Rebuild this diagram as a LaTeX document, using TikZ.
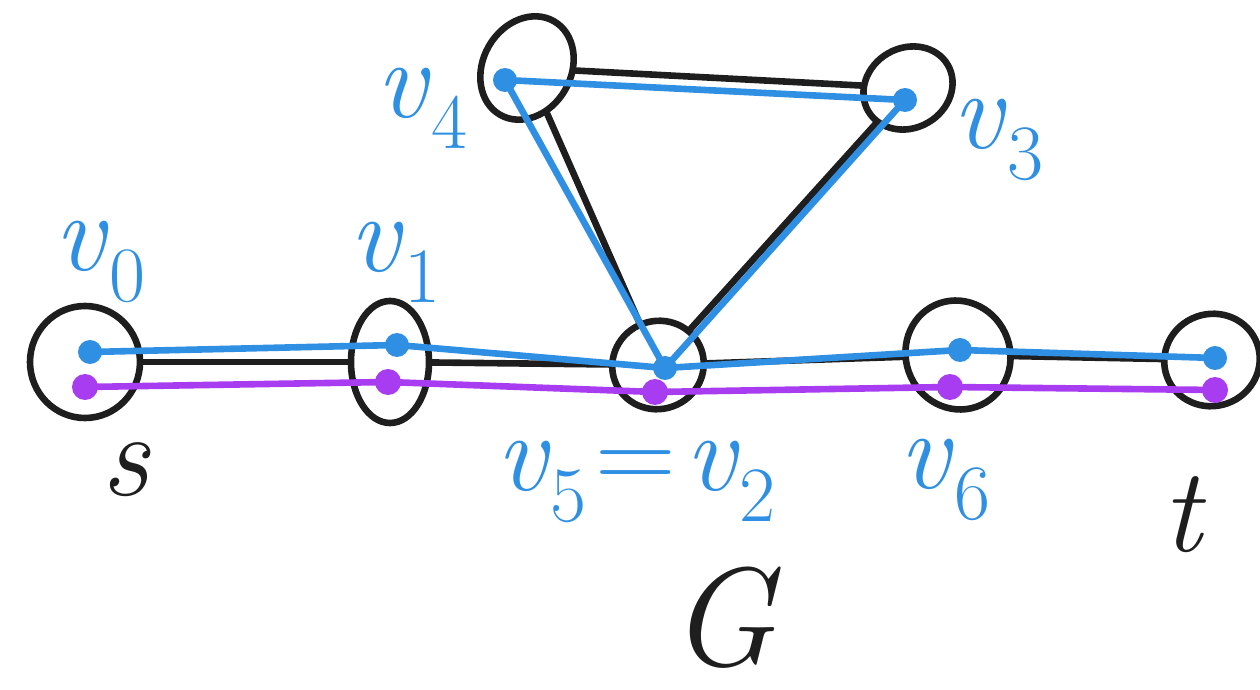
\documentclass[tikz,border=0pt]{standalone}
\usepackage{fontspec}
\usetikzlibrary{shapes.geometric}
\definecolor{pblue}{HTML}{2E8FE3}
\definecolor{ppurple}{HTML}{A83CF0}
\definecolor{ink}{HTML}{1E1E1E}
\newcommand{\vsb}[1]{\textit{v}\raisebox{-0.28em}{\scalebox{0.7}{#1}}}
\begin{document}
\begin{tikzpicture}[x=0.5pt,y=-0.5pt, line cap=round, line join=round,
  vert/.style={draw=ink, line width=3.3pt, ellipse, inner sep=0pt},
  edge/.style={draw=ink, line width=3.3pt},
  bpath/.style={draw=pblue, line width=3.3pt},
  ppath/.style={draw=ppurple, line width=3.3pt},
  bdot/.style={fill=pblue, circle, inner sep=0pt, minimum size=12pt},
  pdot/.style={fill=ppurple, circle, inner sep=0pt, minimum size=13pt},
  blab/.style={text=pblue, font=\fontsize{56}{60}\selectfont, inner sep=0pt},
  klab/.style={text=ink, font=\fontsize{60}{66}\selectfont\itshape, inner sep=0pt}]
\useasboundingbox (0,0) rectangle (1260,690);
% vertices
\node[vert, minimum width=55pt, minimum height=56pt] (s) at (85,362) {};
\node[vert, minimum width=39pt, minimum height=61pt] (v1) at (390,362) {};
\node[vert, minimum width=46pt, minimum height=44pt, rotate=20] (v2) at (658,365) {};
\node[vert, minimum width=52pt, minimum height=55pt, rotate=25] (v6) at (958,355) {};
\node[vert, minimum width=48pt, minimum height=46pt, rotate=20] (t) at (1212,360) {};
\node[vert, minimum width=44pt, minimum height=54pt, rotate=-30] (v4) at (527,68) {};
\node[vert, minimum width=46pt, minimum height=40pt, rotate=30] (v3) at (908,88) {};
% edges of G
\draw[edge] (s) -- (v1);
\draw[edge] (v1) -- (v2);
\draw[edge] (v2) -- (v6);
\draw[edge] (v6) -- (t);
\draw[edge] (v4) -- (v3);
\draw[edge] (v4) -- (v2);
\draw[edge] (v3) -- (v2);
% blue walk
\coordinate (bs) at (90,352);
\coordinate (b1) at (397,345);
\coordinate (b2) at (665,368);
\coordinate (b4) at (505,80);
\coordinate (b3) at (905,100);
\coordinate (b6) at (960,350);
\coordinate (bt) at (1215,358);
\draw[bpath] (bs) -- (b1) -- (b2) -- (b4) -- (b3) -- (b2) -- (b6) -- (bt);
\foreach \c in {bs,b1,b2,b4,b3,b6,bt} \node[bdot] at (\c) {};
% purple walk
\coordinate (ps) at (85,387);
\coordinate (p1) at (388,382);
\coordinate (p2) at (655,392);
\coordinate (p6) at (950,387);
\coordinate (pt) at (1215,390);
\draw[ppath] (ps) -- (p1) -- (p2) -- (p6) -- (pt);
\foreach \c in {ps,p1,p2,p6,pt} \node[pdot] at (\c) {};
% labels
\node[blab] (l0) at (100,262) {\vsb{0}};
\node[blab] (l1) at (395,262) {\vsb{1}};
\node[blab] (l4) at (422,108) {\vsb{4}};
\node[blab] (l3) at (998,140) {\vsb{3}};
\node[blab] (l52) at (636,482) {\vsb{5}\kern0.08em=\kern0.08em\vsb{2}};
\node[blab] (l6) at (945,480) {\vsb{6}};
\node[klab] (ls) at (125,470) {s};
\node[klab] (lt) at (1182,515) {t};
\node[klab, font=\fontsize{70}{74}\selectfont\itshape] (lG) at (722,618) {G};
\end{tikzpicture}
\end{document}
